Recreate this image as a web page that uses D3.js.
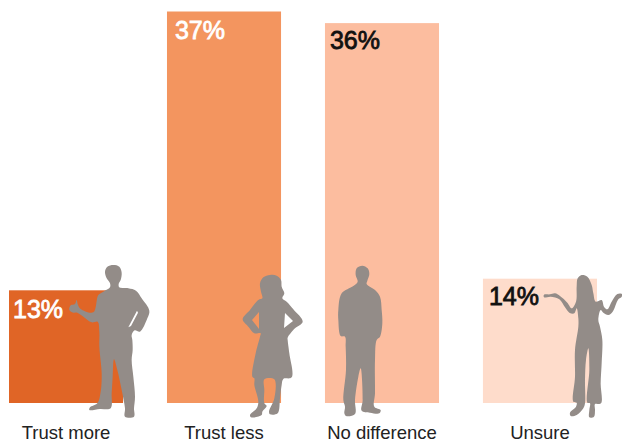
<!DOCTYPE html>
<html>
<head>
<meta charset="utf-8">
<script src="https://cdn.jsdelivr.net/npm/d3@7"></script>
<style>
  html, body { margin: 0; padding: 0; background: #fff; }
  svg { display: block; }
  text { font-family: "Liberation Sans", Arial, sans-serif; }
</style>
</head>
<body>
<svg id="chart" width="622" height="442"></svg>
<script>
// Survey answers and their shares, in percent
const categories = ["Trust more", "Trust less", "No difference", "Unsure"];
const shares = [13, 37, 36, 14];
const barColors = ["#e06526", "#f3955f", "#fcbd9f", "#fedccb"];
const valueColors = ["#ffffff", "#ffffff", "#111111", "#111111"];

// The value axis does not start at zero: bars rise from a floor of 3.3
const axisFloor = 3.3;
const axisCeiling = 37;

// Inset of each value label from its bar's top-left corner
const labelInsetX = [4, 8, 5, 6];
const labelInsetY = [28, 27, 26, 26];

// Figure outlines, drawn on a 3x grid relative to each figure's origin
const silhouettes = [
  { origin: [60, 260],
    outline: [[160,15],[178,20],[185,38],[182,60],[176,72],[178,82],[205,85],[228,92],[245,115],[268,152],[262,175],[240,215],[224,211],[215,225],[217,240],[218,270],[215,300],[220,350],[225,410],[222,445],[222,470],[195,470],[195,445],[185,390],[172,330],[162,298],[158,350],[155,400],[152,445],[120,447],[88,450],[90,442],[112,430],[122,395],[125,340],[118,260],[118,215],[113,185],[95,187],[70,170],[52,158],[40,158],[28,150],[32,136],[45,132],[50,120],[54,135],[62,147],[100,157],[115,105],[130,95],[150,82],[150,70],[140,55],[135,35],[142,20]],
    holes: [[[231,152],[205,202],[213,198],[234,158]]] },
  { origin: [225, 270],
    outline: [[135,15],[155,17],[168,30],[170,50],[178,70],[172,85],[185,95],[205,118],[233,155],[210,175],[188,203],[188,210],[193,250],[200,322],[175,327],[170,345],[165,385],[158,430],[135,433],[132,425],[148,385],[148,328],[118,328],[118,360],[118,400],[125,408],[112,425],[110,435],[78,442],[75,435],[95,415],[100,395],[88,345],[88,325],[82,320],[92,250],[105,200],[107,190],[88,190],[70,170],[53,148],[75,120],[100,90],[112,85],[108,65],[105,40],[115,22]],
    holes: [[[102,126],[81,150],[102,177]], [[180,129],[204,153],[177,174]]] },
  { origin: [320, 260],
    outline: [[127,17],[143,25],[148,42],[142,62],[140,72],[165,90],[180,110],[185,150],[187,190],[180,230],[170,240],[165,300],[165,400],[163,440],[182,450],[178,460],[150,458],[125,452],[128,420],[122,325],[115,350],[105,420],[105,462],[78,468],[73,460],[75,440],[70,420],[78,330],[77,260],[75,230],[62,228],[55,180],[55,150],[65,100],[100,78],[113,65],[107,45],[110,25]],
    holes: [] },
  { origin: [530, 270],
    outline: [[155,15],[172,20],[185,45],[190,70],[197,95],[215,90],[222,110],[232,118],[245,95],[262,72],[276,72],[275,80],[265,88],[248,125],[235,135],[220,128],[212,120],[205,150],[210,170],[217,210],[215,280],[212,340],[213,400],[195,402],[195,420],[192,440],[178,442],[178,420],[180,400],[172,398],[178,300],[175,235],[168,270],[165,330],[165,400],[160,415],[140,435],[122,438],[120,428],[138,410],[140,398],[130,395],[135,320],[135,240],[145,170],[145,145],[140,115],[133,130],[118,128],[105,112],[88,88],[62,80],[42,82],[42,74],[60,73],[75,70],[90,78],[112,98],[125,115],[138,95],[140,50],[143,25]],
    holes: [] }
];

const x = d3.scaleBand()
  .domain(categories)
  .range([9, 597])
  .paddingInner(0.278)
  .paddingOuter(0);

const y = d3.scaleLinear()
  .domain([axisFloor, axisCeiling])
  .range([403, 11.5]);

const svg = d3.select("#chart");

const rows = categories.map((name, i) => ({
  name, share: shares[i], color: barColors[i], valueColor: valueColors[i],
  insetX: labelInsetX[i], insetY: labelInsetY[i]
}));

svg.append("g").selectAll("rect")
  .data(rows)
  .join("rect")
  .attr("x", d => x(d.name))
  .attr("y", d => y(d.share))
  .attr("width", x.bandwidth())
  .attr("height", d => y(axisFloor) - y(d.share))
  .attr("fill", d => d.color);

// Regular weight with a thin stroke gives the medium-heavy look of the value labels
svg.append("g").selectAll("text")
  .data(rows)
  .join("text")
  .attr("x", d => x(d.name) + d.insetX)
  .attr("y", d => y(d.share) + d.insetY)
  .attr("font-size", 25)
  .attr("font-weight", 400)
  .attr("fill", d => d.valueColor)
  .attr("stroke", d => d.valueColor)
  .attr("stroke-width", 0.8)
  .text(d => d.share + "%");

// Standing figures in front of the bars; the outer outline is smoothed, arm gaps stay sharp
const outlineLine = d3.line().curve(d3.curveCatmullRomClosed.alpha(0.5));
const gapLine = d3.line().curve(d3.curveLinearClosed);
svg.append("g").selectAll("path")
  .data(silhouettes)
  .join("path")
  .attr("transform", d => `translate(${d.origin[0]},${d.origin[1]}) scale(${1 / 3})`)
  .attr("fill", "#938c88")
  .attr("fill-rule", "evenodd")
  .attr("d", d => outlineLine(d.outline) + d.holes.map(gapLine).join(""));

svg.append("g").selectAll("text")
  .data(rows)
  .join("text")
  .attr("x", d => x(d.name) + x.bandwidth() / 2)
  .attr("y", 439)
  .attr("text-anchor", "middle")
  .attr("font-size", 18.5)
  .attr("fill", "#222222")
  .text(d => d.name);
</script>
</body>
</html>
